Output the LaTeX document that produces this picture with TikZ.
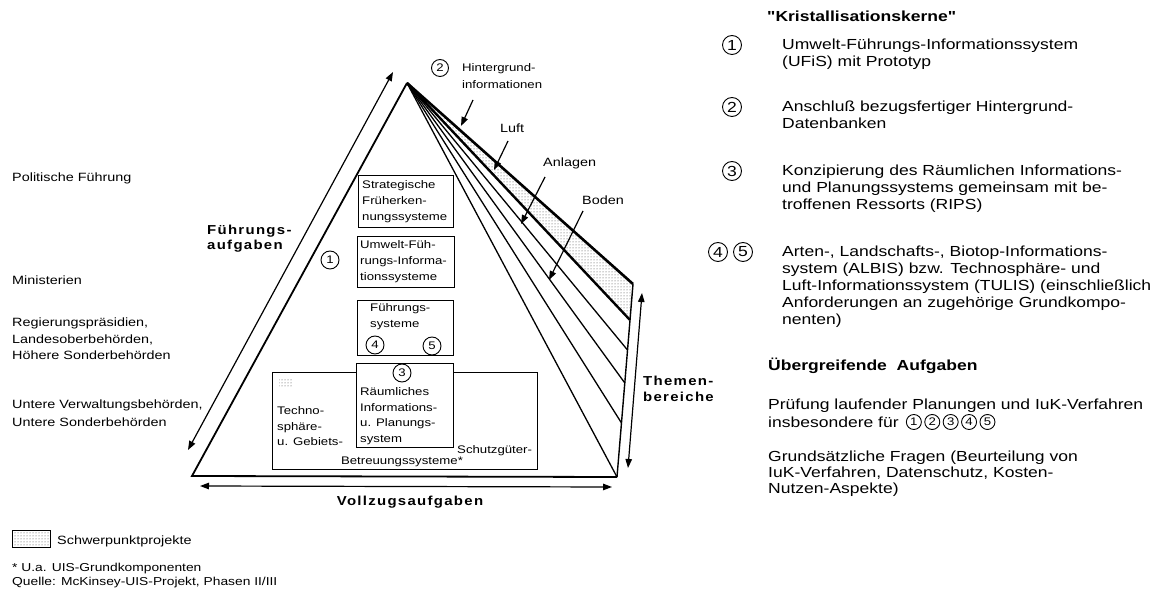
\documentclass[tikz,border=0pt]{standalone}
\usepackage{fontspec}
\setmainfont{Liberation Sans}[FakeStretch=1.2]
\newfontfamily\spbold{Liberation Sans}[FakeStretch=1.15, LetterSpace=10]
\newfontfamily\plainq{Liberation Sans}[FakeStretch=1.2, Ligatures=TeXOff]
\usetikzlibrary{arrows.meta,patterns,positioning,calc}

% text sizes used in the chart
\newcommand\txtR{\fontsize{14.6}{17}\selectfont}
\newcommand\txtRb{\fontsize{14.6}{17}\selectfont\bfseries}
\newcommand\txtL{\fontsize{12}{16.5}\selectfont}
\newcommand\txtS{\fontsize{11}{16}\selectfont}
\newcommand\txtH{\fontsize{13}{15.5}\spbold\bfseries}

\begin{document}
\begin{tikzpicture}[x=1pt,y=-1pt,
  txt/.style={inner sep=0pt, anchor=west},
  blk/.style={inner sep=0pt, anchor=north west, align=left},
  boxn/.style={draw, line width=1.1pt, anchor=north west, inner sep=0pt},
  num/.style={circle, draw, line width=0.9pt, minimum size=18pt, inner sep=0pt, font=\txtS, fill=white},
  numr/.style={num, minimum size=19pt, font=\txtR},
  nums/.style={num, minimum size=15pt, font=\txtS},
  tip/.style={-{Triangle[length=9pt,width=6.5pt]}, line width=1.2pt},
  dtip/.style={{Triangle[length=9pt,width=6.5pt]}-{Triangle[length=9pt,width=6.5pt]}, line width=1.2pt},
  stip/.style={pattern=dots, pattern color=black!75}]

\useasboundingbox (0,0) rectangle (1165,593);

% ---------- pyramid corners and fan end points ----------
\coordinate (A)  at (407,83);
\coordinate (BL) at (192,476);
\coordinate (BR) at (617,477);
\coordinate (R1) at (633,284);
\coordinate (R2) at (630,320);
\coordinate (R3) at (627.5,350);
\coordinate (R4) at (624.8,383);
\coordinate (R5) at (621.5,423);

% shaded theme band
\fill[stip] (A) -- (R1) -- (R2) -- cycle;

% fan of theme lines
\foreach \p in {R3,R4,R5,BR} \draw[line width=1.3pt] (A) -- (\p);
\draw[line width=2.6pt] (A) -- (R1);
\draw[line width=2.4pt] (A) -- (R2);
\draw[line width=1.4pt] (R1) -- (BR);

% left side and base
\draw[line width=1.8pt, line join=miter] (BR) -- (BL) -- (A);

% ---------- boxes inside the pyramid ----------
\node[boxn, minimum width=265, minimum height=97, line width=0.9pt] (bE) at (272,372) {};
\fill[stip] (279,379) rectangle (292,387);
\node[boxn, minimum width=95, minimum height=52] (bA) at (358,175) {};
\node[boxn, minimum width=97, minimum height=51] (bB) at (357,236) {};
\node[boxn, minimum width=96, minimum height=55] (bC) at (357,300) {};
\node[boxn, minimum width=97, minimum height=84, fill=white] (bD) at (356,363) {};

\node[blk, font=\txtS] (tA) at (362,180.5) {Strategische\\Früherken-\\nungssysteme};
\node[blk, font=\txtS] (tB) at (360,240.5) {Umwelt-Füh-\\rungs-Informa-\\tionssysteme};
\node[blk, font=\txtS] (tC) at (370,303.5) {Führungs-\\systeme};
\node[blk, font=\fontsize{11}{15.5}\selectfont] (tD) at (360,387.5) {Räumliches\\Informations-\\u. Planungs-\\system};
\node[blk, font=\fontsize{11}{15.5}\selectfont] (tE) at (277,406.5) {Techno-\\sphäre-\\u. Gebiets-};
\node[txt, font=\txtS] (tS) at (457,451) {Schutzgüter-};
\node[inner sep=0pt, font=\txtS] (tBet) at (402,462) {Betreuungssysteme*};

\node[num] (c1) at (330,260) {1};
\node[num] (c4) at (375,345) {4};
\node[num] (c5) at (432,346) {5};
\node[num] (c3) at (402,373) {3};

% ---------- apex labels ----------
\node[num, minimum size=17pt] (c2) at (440,68) {2};
\node[blk, font=\fontsize{11}{17}\selectfont] (hg) at (462,63.5) {Hintergrund-\\informationen};
\coordinate (hg1) at (473,100);
\coordinate (hg2) at (461,126);
\draw[tip] (hg1) -- (hg2);

\node[txt, font=\txtL] (luft) at (500,128) {Luft};
\coordinate (lu1) at (508,141);
\coordinate (lu2) at (494,170);
\draw[tip] (lu1) -- (lu2);

\node[txt, font=\txtL] (anl) at (543,163) {Anlagen};
\coordinate (an1) at (545,177);
\coordinate (an2) at (521,224);
\draw[tip] (an1) -- (an2);

\node[txt, font=\txtL] (bod) at (582,200) {Boden};
\coordinate (bo1) at (583,211);
\coordinate (bo2) at (549,280);
\draw[tip] (bo1) -- (bo2);

% ---------- axis arrows ----------
\coordinate (fa1) at (393,72);
\coordinate (fa2) at (188,450);
\draw[dtip] (fa2) -- (fa1);
\node[blk, font=\txtH] (fuehr) at (207,224.5) {Führungs-\\aufgaben};

\coordinate (vz1) at (200,486);
\coordinate (vz2) at (612,487);
\draw[dtip] (vz1) -- (vz2);
\node[inner sep=0pt, font=\txtH] (vollz) at (410,502) {Vollzugsaufgaben};

\coordinate (th1) at (628,468);
\coordinate (th2) at (642,293);
\draw[dtip] (th1) -- (th2);
\node[blk, font=\fontsize{13}{16}\spbold\bfseries] (them) at (643,375.5) {Themen-\\bereiche};

% ---------- administrative levels ----------
\node[txt, font=\txtL] (pol) at (12,178) {Politische Führung};
\node[txt, font=\txtL] (min) at (12,280) {Ministerien};
\node[blk, font=\txtL] (reg) at (12,318) {Regierungspräsidien,\\Landesoberbehörden,\\Höhere Sonderbehörden};
\node[blk, font=\fontsize{12}{17.5}\selectfont] (unt) at (12,400) {Untere Verwaltungsbehörden,\\Untere Sonderbehörden};

% ---------- legend and source ----------
\node[boxn, minimum width=38, minimum height=17, line width=0.8pt, stip] (lg) at (12,530) {};
\node[txt, font=\txtL] (lgt) at (57,541) {Schwerpunktprojekte};
\node[txt, font=\fontsize{11.5}{14}\selectfont] (fn) at (12,569) {* U.a. UIS-Grundkomponenten};
\node[txt, font=\fontsize{11.5}{14}\selectfont] (src) at (12,583) {Quelle: McKinsey-UIS-Projekt, Phasen II/III};

% ---------- right column ----------
\node[txt, font=\txtRb] (kk) at (767,16) {{\plainq\bfseries"}Kristallisationskerne{\plainq\bfseries"}};

\node[numr] (k1n) at (732,45) {1};
\node[blk, font=\txtR] (k1) at (782,39) {Umwelt-Führungs-Informationssystem\\(UFiS) mit Prototyp};
\node[numr] (k2n) at (732,107) {2};
\node[blk, font=\txtR] (k2) at (782,101) {Anschluß bezugsfertiger Hintergrund-\\Datenbanken};
\node[numr] (k3n) at (732,171) {3};
\node[blk, font=\txtR] (k3) at (782,165) {Konzipierung des Räumlichen Informations-\\und Planungssystems gemeinsam mit be-\\troffenen Ressorts (RIPS)};
\node[numr] (k4n) at (718,252) {4};
\node[numr] (k5n) at (743,252) {5};
\node[blk, font=\txtR] (k45) at (782,246) {Arten-, Landschafts-, Biotop-Informations-\\system (ALBIS) bzw. Technosphäre- und\\Luft-Informationssystem (TULIS) (einschließlich\\Anforderungen an zugehörige Grundkompo-\\nenten)};

\node[txt, font=\txtRb] (ueb) at (768,366) {Übergreifende~ Aufgaben};
\node[txt, font=\txtR] (pr1) at (768,406) {Prüfung laufender Planungen und IuK-Verfahren};
\node[txt, font=\txtR] (pr2) at (768,422) {insbesondere für};
\node[nums, right=7pt of pr2] (p1) {1};
\node[nums, right=2.5pt of p1] (p2) {2};
\node[nums, right=2.5pt of p2] (p3) {3};
\node[nums, right=2.5pt of p3] (p4) {4};
\node[nums, right=2.5pt of p4] (p5) {5};

\node[blk, font=\fontsize{14.6}{16}\selectfont] (gf) at (768,451) {Grundsätzliche Fragen (Beurteilung von\\IuK-Verfahren, Datenschutz, Kosten-\\Nutzen-Aspekte)};

\end{tikzpicture}
\end{document}
